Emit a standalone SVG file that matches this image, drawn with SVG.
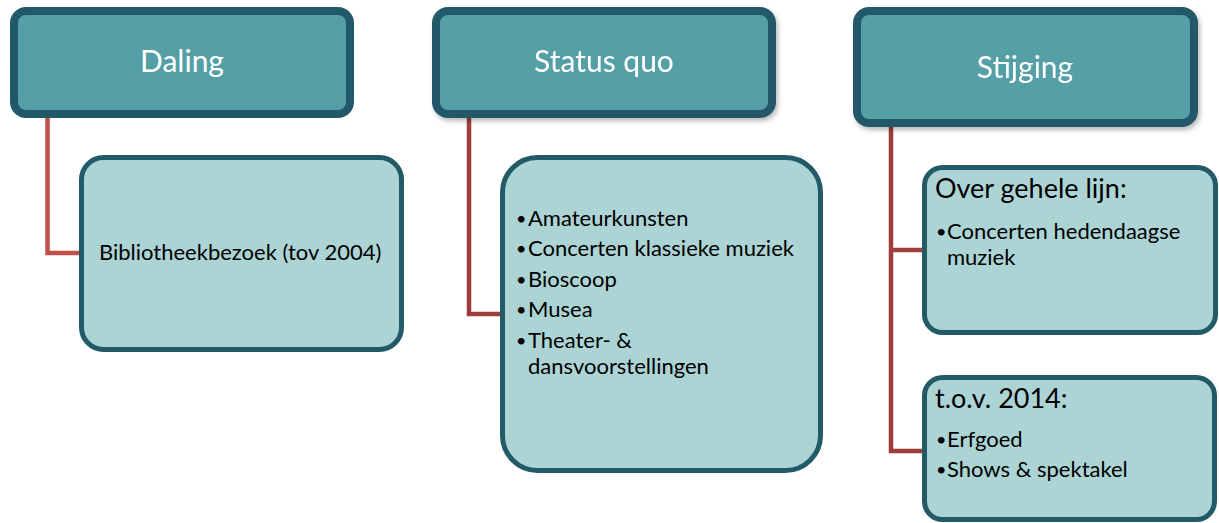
<svg xmlns="http://www.w3.org/2000/svg" width="1219" height="523" viewBox="0 0 1219 523">
<defs>
<filter id="sh" x="-5%" y="-10%" width="115%" height="130%">
<feDropShadow dx="2" dy="3" stdDeviation="2.5" flood-color="#000" flood-opacity="0.28"/>
</filter>
</defs>
<style>
.hdr{fill:#549fa6;stroke:#215968;stroke-width:8}
.box{fill:#acd4d5;stroke:#235a68;stroke-width:5}
.ht{font-family:Lato,"Liberation Sans",sans-serif;font-size:30px;fill:#ffffff;text-anchor:middle}
.bt{font-family:Lato,"Liberation Sans",sans-serif;font-size:22px;fill:#000000}
.bu{font-family:Lato,"Liberation Sans",sans-serif;font-size:18px;fill:#000000}
.st{font-family:Lato,"Liberation Sans",sans-serif;font-size:27px;fill:#000000}
.c1{fill:none;stroke:#c0504d;stroke-width:4.5}
.c2{fill:none;stroke:#9e3e3c;stroke-width:4.5}
</style>
<g id="connectors">
<path class="c1" d="M47.5 116 V253 H81"/>
<path class="c2" d="M469 116 V314 H502"/>
<path class="c2" d="M891 124 V451 H924"/>
<path class="c2" d="M891 250 H924"/>
</g>
<g id="daling">
<rect class="hdr" x="14" y="11" width="336" height="103" rx="12"/>
<text class="ht" x="182" y="72">Daling</text>
</g>
<g id="status-quo" filter="url(#sh)">
<rect class="hdr" x="436" y="11" width="336" height="103" rx="12"/>
<text class="ht" x="604" y="72">Status quo</text>
</g>
<g id="stijging" filter="url(#sh)">
<rect class="hdr" x="857" y="11" width="337" height="112" rx="12"/>
<text class="ht" x="1025" y="78">Stijging</text>
</g>
<g id="daling-child">
<rect class="box" x="81.5" y="157.5" width="320" height="192" rx="22"/>
<text class="bt" x="99" y="260">Bibliotheekbezoek (tov 2004)</text>
</g>
<g id="status-quo-child">
<rect class="box" x="502.5" y="157.5" width="318" height="313" rx="35"/>
<text class="bu" x="516" y="225">•</text><text class="bt" x="528" y="226">Amateurkunsten</text>
<text class="bu" x="516" y="255">•</text><text class="bt" x="528" y="256">Concerten klassieke muziek</text>
<text class="bu" x="516" y="286">•</text><text class="bt" x="528" y="287">Bioscoop</text>
<text class="bu" x="516" y="316">•</text><text class="bt" x="528" y="317">Musea</text>
<text class="bu" x="516" y="347">•</text><text class="bt"><tspan x="528" y="348">Theater- &amp;</tspan><tspan x="528" y="374">dansvoorstellingen</tspan></text>
</g>
<g id="stijging-child-1">
<rect class="box" x="924.5" y="167.5" width="291" height="165" rx="18"/>
<text class="st" x="935" y="198">Over gehele lijn:</text>
<text class="bu" x="936" y="238">•</text><text class="bt"><tspan x="947" y="239">Concerten hedendaagse</tspan><tspan x="947" y="265">muziek</tspan></text>
</g>
<g id="stijging-child-2">
<rect class="box" x="924.5" y="377.5" width="290" height="142" rx="18"/>
<text class="st" x="935" y="408">t.o.v. 2014:</text>
<text class="bu" x="936" y="446">•</text><text class="bt" x="947" y="447">Erfgoed</text>
<text class="bu" x="936" y="476">•</text><text class="bt" x="947" y="477">Shows &amp; spektakel</text>
</g>
</svg>
